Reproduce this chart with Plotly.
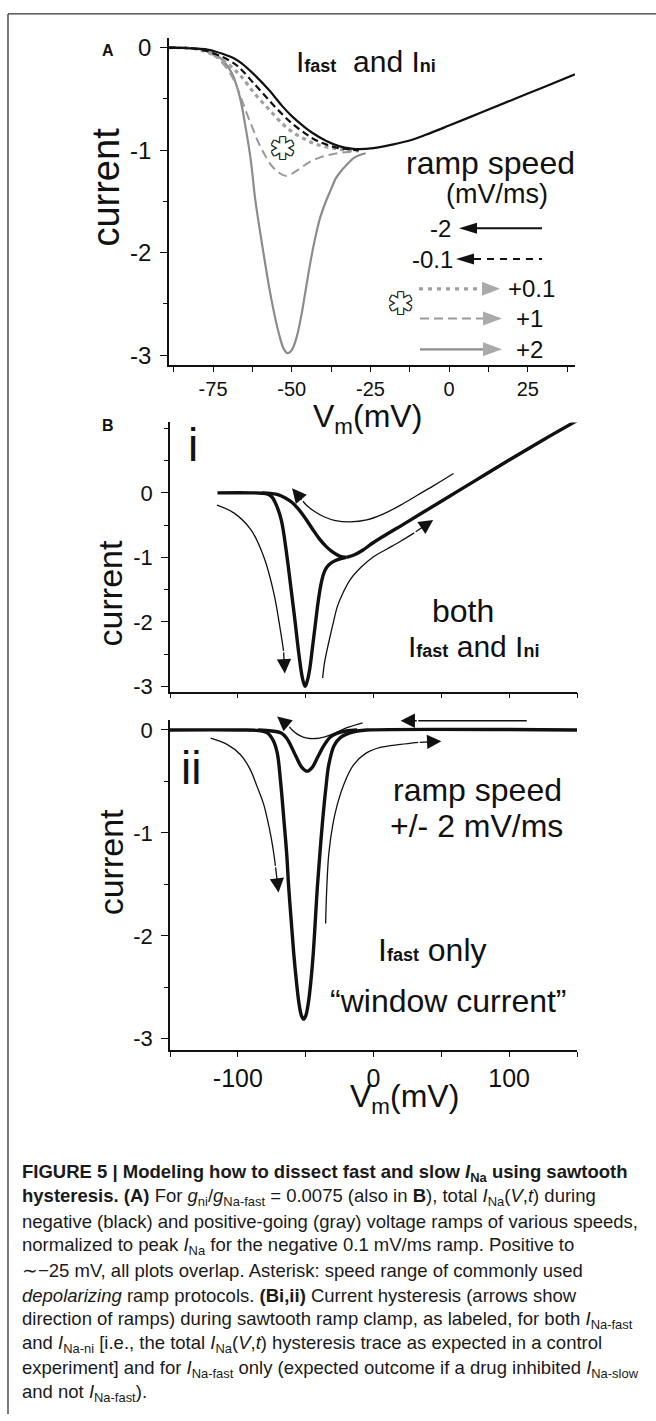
import plotly.graph_objects as go

W, H = 656, 1421
def X(px): return px / W
def Y(py): return 1 - py / H

FONT = "Liberation Sans, Arial, sans-serif"
CAPFONT = "Liberation Sans, Arial, sans-serif"

# ---------------- Panel A data (V in mV, normalized current) ----------------
vA_neg2 = [-89, -85, -80, -76.4, -72, -68, -65.8, -62, -57.3, -53, -49.9, -46.5, -43.5, -39, -35, -31, -28.7, -24, -18, -12, -7.4, 0, 10, 20, 30, 40]
iA_neg2 = [0, -0.003, -0.01, -0.02, -0.06, -0.11, -0.155, -0.26, -0.41, -0.57, -0.67, -0.76, -0.83, -0.91, -0.96, -0.985, -0.99, -0.98, -0.945, -0.9, -0.85, -0.76, -0.635, -0.51, -0.385, -0.26]
vA_neg01 = [-89, -82, -79, -76.4, -72, -68, -65.8, -62, -57.3, -53, -49.9, -46, -42.5, -38.5, -35, -31, -28.7]
iA_neg01 = [0, -0.005, -0.02, -0.04, -0.09, -0.16, -0.22, -0.35, -0.51, -0.65, -0.74, -0.83, -0.9, -0.95, -0.98, -0.995, -1.0]
vA_pos01 = [-89, -82, -79, -76.4, -72, -68, -65.8, -62, -57.3, -53, -49.9, -46, -42.5, -38.5, -35, -31, -28.7]
iA_pos01 = [0, -0.005, -0.025, -0.05, -0.12, -0.22, -0.29, -0.44, -0.6, -0.74, -0.82, -0.89, -0.94, -0.97, -0.99, -1.0, -1.0]
vA_pos1 = [-89, -82, -78, -75.4, -72, -69, -66.8, -64.7, -62.5, -60.5, -58.3, -56.3, -54, -52, -50, -47.5, -44.6, -41, -37.2, -33, -28.7]
iA_pos1 = [0, -0.005, -0.025, -0.06, -0.15, -0.28, -0.43, -0.61, -0.78, -0.93, -1.06, -1.155, -1.22, -1.25, -1.23, -1.18, -1.12, -1.07, -1.04, -1.02, -1.01]
vA_pos2 = [-89, -82, -78, -75.4, -72, -69, -66.5, -64.7, -63, -61.6, -59, -56.5, -54, -52.5, -51.3, -50, -48.5, -47, -45.5, -44, -42.5, -41, -39.3, -37.5, -36.1, -34.5, -32.9, -30, -26.5]
iA_pos2 = [0, -0.005, -0.02, -0.04, -0.12, -0.25, -0.48, -0.77, -1.1, -1.48, -2.0, -2.45, -2.8, -2.94, -2.98, -2.95, -2.83, -2.62, -2.35, -2.08, -1.85, -1.66, -1.51, -1.38, -1.28, -1.21, -1.155, -1.07, -1.03]

A_xticks = [-75, -50, -25, 0, 25]
A_xticktext = ["-75", "-50", "-25", "0", "25"]
A_xminor = [-87.5, -62.5, -37.5, -12.5, 12.5, 37.5]
A_yticks = [0, -1, -2, -3]
A_yticktext = ["0", "-1", "-2", "-3"]
A_yminor = [-0.5, -1.5, -2.5]
legend_neg = ["-2", "-0.1"]
legend_pos = ["+0.1", "+1", "+2"]

# ---------------- Panel B(i) data ----------------
vBi_dep = [-115, -90, -82, -78, -75, -72, -68, -64, -61, -58, -55, -52.5, -50.5, -49, -47, -45, -43, -41, -39, -37, -35, -32, -28, -24, -20]
iBi_dep = [0, 0, -0.005, -0.02, -0.06, -0.17, -0.42, -0.95, -1.45, -1.96, -2.5, -2.86, -3.0, -2.93, -2.73, -2.4, -2.06, -1.72, -1.45, -1.27, -1.17, -1.1, -1.05, -1.02, -1.0]
vBi_rep = [-82, -76, -70, -65, -60, -55, -50, -45, -40, -35, -30, -25, -20]
iBi_rep = [0, -0.01, -0.03, -0.08, -0.15, -0.26, -0.4, -0.56, -0.71, -0.83, -0.92, -0.98, -1.0]
vBi_lin = [-20, -14, -8, 0, 25, 50, 75, 100, 125, 150]
iBi_lin = [-1.0, -0.96, -0.89, -0.77, -0.45, -0.13, 0.19, 0.51, 0.82, 1.12]
vBi_arrL = [-115.4, -103, -90.4, -80.9, -73.5, -68.4, -66.3]
iBi_arrL = [-0.19, -0.31, -0.57, -0.99, -1.55, -2.16, -2.45]
vBi_arrR = [-37.5, -36, -33, -29.5, -26.6, -22, -17, -9, 0, 10, 20, 30]
iBi_arrR = [-2.87, -2.62, -2.32, -2.0, -1.76, -1.53, -1.34, -1.15, -0.99, -0.87, -0.75, -0.62]
vBi_arrT = [59, 45, 32, 20, 7, -5, -17, -28, -36.5, -44, -49, -52]
iBi_arrT = [0.3, 0.12, -0.04, -0.19, -0.33, -0.42, -0.45, -0.43, -0.37, -0.28, -0.2, -0.13]
Bi_tipL = (-65.4, -2.8)
Bi_tipR = (44, -0.42)
Bi_tipT = (-60, 0.07)

# ---------------- Panel B(ii) data ----------------
vBii_dep = [-150, -100, -85, -78, -74, -71, -68.5, -66, -64, -62.5, -60.5, -58.8, -57, -55, -53, -51.5, -50, -48, -46, -44.4, -43, -41.4, -39.5, -37.5, -35, -33, -29, -24, -18, -12, -5, 150]
iBii_dep = [0, 0, -0.005, -0.03, -0.1, -0.22, -0.5, -0.88, -1.2, -1.53, -1.88, -2.17, -2.42, -2.65, -2.78, -2.81, -2.78, -2.65, -2.42, -2.17, -1.88, -1.53, -1.2, -0.88, -0.55, -0.34, -0.15, -0.07, -0.03, -0.01, 0, 0]
vBii_rep = [-85, -75, -68, -64, -61, -57, -53, -48.8, -45, -41, -36.5, -32, -26.6, -20, -12]
iBii_rep = [0, -0.01, -0.03, -0.08, -0.15, -0.26, -0.36, -0.4, -0.36, -0.26, -0.15, -0.07, -0.03, -0.01, 0]
vBii_arrT = [-8, -20, -30, -40, -49, -55, -60, -62]
iBii_arrT = [0.07, 0.02, -0.04, -0.08, -0.08, -0.05, 0.0, 0.03]
vBii_arrL = [-120, -108, -98, -91, -85.5, -81, -78, -75.5, -73.5, -72.3]
iBii_arrL = [-0.08, -0.14, -0.24, -0.38, -0.56, -0.72, -0.88, -1.04, -1.2, -1.32]
vBii_arrR = [-35.3, -34.5, -33, -30, -26.6, -21, -14.7, -6, 5, 20, 33]
iBii_arrR = [-1.88, -1.55, -1.21, -0.92, -0.72, -0.5, -0.34, -0.23, -0.17, -0.14, -0.12]
vBii_arrH = [113, 33]
iBii_arrH = [0.09, 0.09]
Bii_tipT = (-71, 0.13)
Bii_tipL = (-70, -1.58)
Bii_tipR = (50, -0.11)
Bii_tipH = (20, 0.09)

B_xticks_all = [-150, -100, -50, 0, 50, 100, 150]
B_xlabels = [-100, 0, 100]
B_xlabeltext = ["-100", "0", "100"]
B_xminor = [-150, -50, 50, 150]
B_yticks = [0, -1, -2, -3]
B_yticktext = ["0", "-1", "-2", "-3"]
Bi_yminor = [1, 0.5, -0.5, -1.5, -2.5]
Bii_yminor = [-0.5, -1.5, -2.5]

BLACK = "#111111"
G_SOLID = "#8c8c8c"
G_DASH = "#9a9a9a"
G_DOT = "#a0a0a0"

fig = go.Figure()

def add(xs, ys, ax, color, width, dash="solid", smooth=1.0):
    fig.add_trace(go.Scatter(
        x=xs, y=ys, xaxis="x" + ax, yaxis="y" + ax, mode="lines",
        line=dict(color=color, width=width, dash=dash, shape="spline", smoothing=smooth),
        hoverinfo="skip", showlegend=False))

# Panel A
add(vA_pos2, iA_pos2, "", G_SOLID, 2.2)
add(vA_pos1, iA_pos1, "", G_DASH, 2.0, "9px,5px")
add(vA_pos01, iA_pos01, "", G_DOT, 3.2, "4px,4px")
add(vA_neg01, iA_neg01, "", BLACK, 2.2, "7px,4px")
add(vA_neg2, iA_neg2, "", BLACK, 2.2)

# Panel B(i)
add(vBi_dep, iBi_dep, "2", BLACK, 3.4)
add(vBi_rep, iBi_rep, "2", BLACK, 3.4)
add(vBi_lin, iBi_lin, "2", BLACK, 3.4)
add(vBi_arrL, iBi_arrL, "2", BLACK, 1.3)
add(vBi_arrR, iBi_arrR, "2", BLACK, 1.3)
add(vBi_arrT, iBi_arrT, "2", BLACK, 1.3)

# Panel B(ii)
add(vBii_dep, iBii_dep, "3", BLACK, 3.4)
add(vBii_rep, iBii_rep, "3", BLACK, 3.4)
add(vBii_arrT, iBii_arrT, "3", BLACK, 1.3)
add(vBii_arrL, iBii_arrL, "3", BLACK, 1.3)
add(vBii_arrR, iBii_arrR, "3", BLACK, 1.3)
add(vBii_arrH, iBii_arrH, "3", BLACK, 1.3, smooth=0)

annotations = []

def arrowhead(tip, xs, ys, ax):
    annotations.append(dict(
        x=tip[0], y=tip[1], ax=xs[-1], ay=ys[-1],
        xref="x" + ax, yref="y" + ax, axref="x" + ax, ayref="y" + ax,
        text="", showarrow=True, arrowhead=2, arrowsize=2.2, arrowwidth=1.3,
        arrowcolor=BLACK, standoff=0))

arrowhead(Bi_tipL, vBi_arrL, iBi_arrL, "2")
arrowhead(Bi_tipR, vBi_arrR, iBi_arrR, "2")
arrowhead(Bi_tipT, vBi_arrT, iBi_arrT, "2")
arrowhead(Bii_tipT, vBii_arrT, iBii_arrT, "3")
arrowhead(Bii_tipL, vBii_arrL, iBii_arrL, "3")
arrowhead(Bii_tipR, vBii_arrR, iBii_arrR, "3")
arrowhead(Bii_tipH, vBii_arrH, iBii_arrH, "3")

def txt(text, px, py, size, xanchor="center", yanchor="middle", angle=0, family=FONT, color=BLACK, shadow=None):
    f = dict(family=family, size=size, color=color)
    if shadow:
        f["shadow"] = shadow
    annotations.append(dict(
        text=text, x=X(px), y=Y(py), xref="paper", yref="paper",
        xanchor=xanchor, yanchor=yanchor, showarrow=False, textangle=angle, font=f))

SMALL = "<b><span style='font-size:18px'>%s</span></b>"
OUTLINE = "1px 0 0 #222, -1px 0 0 #222, 0 1px 0 #222, 0 -1px 0 #222, 1px 1px 0 #222, -1px -1px 0 #222, 1px -1px 0 #222, -1px 1px 0 #222"
# Panel A texts
txt("<b>A</b>", 108, 47, 16)
txt("I" + SMALL % "fast" + "  and I" + SMALL % "ni", 294, 58, 30, xanchor="left")
txt("ramp speed", 490, 160, 32)
txt("(mV/ms)", 497, 191, 27)
txt(legend_neg[0], 453, 226, 24, xanchor="right")
txt(legend_neg[1], 455, 257, 24, xanchor="right")
txt(legend_pos[0], 506, 287, 24, xanchor="left")
txt(legend_pos[1], 514, 317, 24, xanchor="left")
txt(legend_pos[2], 514, 348, 24, xanchor="left")
txt("✱", 282, 146, 30, family="DejaVu Sans", color="white", shadow=OUTLINE)
txt("✱", 400, 302, 30, family="DejaVu Sans", color="white", shadow=OUTLINE)
txt("current", 106, 185, 38, angle=-90)
txt("V<sub>m</sub>(mV)", 367, 418, 32)

# Panel B texts
txt("<b>B</b>", 108, 425, 16)
txt("i", 193, 444, 46)
txt("current", 110, 594, 34, angle=-90)
txt("both", 463, 612, 32)
txt("I" + SMALL % "fast" + " and I" + SMALL % "ni", 473, 648, 30)
txt("ii", 191, 770, 46)
txt("current", 111, 865, 34, angle=-90)
txt("ramp speed", 477, 792, 32)
txt("+/- 2 mV/ms", 476, 828, 32)
txt("I" + SMALL % "fast" + " only", 432, 953, 32)
txt("\u201cwindow current\u201d", 448, 1005, 32)
txt("V<sub>m</sub>(mV)", 404, 1103, 32)

# Caption
caption = [
    "<b>FIGURE 5 | Modeling how to dissect fast and slow <i>I</i><sub>Na</sub> using sawtooth</b>",
    "<b>hysteresis. (A)</b> For <i>g</i><sub>ni</sub>/<i>g</i><sub>Na-fast</sub> = 0.0075 (also in <b>B</b>), total <i>I</i><sub>Na</sub>(<i>V</i>,<i>t</i>) during",
    "negative (black) and positive-going (gray) voltage ramps of various speeds,",
    "normalized to peak <i>I</i><sub>Na</sub> for the negative 0.1 mV/ms ramp. Positive to",
    "\u223c\u221225 mV, all plots overlap. Asterisk: speed range of commonly used",
    "<i>depolarizing</i> ramp protocols. <b>(Bi,ii)</b> Current hysteresis (arrows show",
    "direction of ramps) during sawtooth ramp clamp, as labeled, for both <i>I</i><sub>Na-fast</sub>",
    "and <i>I</i><sub>Na-ni</sub> [i.e., the total <i>I</i><sub>Na</sub>(<i>V</i>,<i>t</i>) hysteresis trace as expected in a control",
    "experiment] and for <i>I</i><sub>Na-fast</sub> only (expected outcome if a drug inhibited <i>I</i><sub>Na-slow</sub>",
    "and not <i>I</i><sub>Na-fast</sub>).",
]
for k, line in enumerate(caption):
    txt(line, 20, 1178 + 24.7 * k, 18.5, xanchor="left", family=CAPFONT, color="#1a1a1a")

shapes = []
# Frame (left and top lines)
shapes.append(dict(type="line", xref="paper", yref="paper", x0=X(8), y0=Y(10), x1=X(8), y1=0, line=dict(color="#333", width=1.3)))
shapes.append(dict(type="line", xref="paper", yref="paper", x0=X(8), y0=Y(10), x1=1, y1=Y(10), line=dict(color="#333", width=1.3)))

def seg(x0, x1, py, color, width, dash="solid"):
    shapes.append(dict(type="line", xref="paper", yref="paper", x0=X(x0), y0=Y(py), x1=X(x1), y1=Y(py),
                       line=dict(color=color, width=width, dash=dash)))

def tri(tipx, basex, py, half, color):
    p = "M %f,%f L %f,%f L %f,%f Z" % (X(tipx), Y(py), X(basex), Y(py - half), X(basex), Y(py + half))
    shapes.append(dict(type="path", xref="paper", yref="paper", path=p, fillcolor=color, line=dict(width=0)))

# legend glyphs
seg(476, 542, 226, BLACK, 2.2)
tri(459, 477, 226, 5.5, BLACK)
seg(474, 542, 257, BLACK, 2.2, "7px,6px")
tri(456, 474, 257, 5.5, BLACK)
seg(419, 482, 287, G_DOT, 3.2, "4px,5px")
tri(500, 482, 287, 7, "#aaaaaa")
seg(420, 483, 317, G_DASH, 2.0, "9px,5px")
tri(502, 483, 317, 7, "#aaaaaa")
seg(420, 483, 348, G_SOLID, 2.2)
tri(502, 483, 348, 7, "#aaaaaa")

axis_common = dict(showline=True, linecolor=BLACK, linewidth=1.5, showgrid=False, zeroline=False,
                   ticks="outside", tickcolor=BLACK, tickwidth=1.3)

fig.update_layout(
    width=W, height=H, margin=dict(l=0, r=0, t=0, b=0),
    paper_bgcolor="white", plot_bgcolor="white", showlegend=False,
    xaxis=dict(domain=[X(169), X(575)], range=[-89, 40], anchor="y", tickvals=A_xticks, ticktext=A_xticktext,
               ticklen=5, tickfont=dict(family=FONT, size=20, color=BLACK), ticklabelstandoff=0,
               minor=dict(tickvals=A_xminor, ticks="outside", ticklen=5, tickcolor=BLACK, tickwidth=1.3), **axis_common),
    yaxis=dict(domain=[Y(364), Y(34)], range=[-3.097, 0.097], anchor="x", tickvals=A_yticks, ticktext=A_yticktext,
               ticklen=7, tickfont=dict(family=FONT, size=24, color=BLACK), ticklabelstandoff=4,
               minor=dict(tickvals=A_yminor, ticks="outside", ticklen=4, tickcolor=BLACK, tickwidth=1.3), **axis_common),
    xaxis2=dict(domain=[X(170), X(577)], range=[-150, 150], anchor="y2", tickvals=B_xticks_all, ticklen=5,
                showticklabels=False, **axis_common),
    yaxis2=dict(domain=[Y(693), Y(421.7)], range=[-3.082, 1.092], anchor="x2", tickvals=B_yticks, ticktext=B_yticktext,
                ticklen=7, tickfont=dict(family=FONT, size=22, color=BLACK), ticklabelstandoff=4,
                minor=dict(tickvals=Bi_yminor, ticks="outside", ticklen=4, tickcolor=BLACK, tickwidth=1.3), **axis_common),
    xaxis3=dict(domain=[X(170), X(577)], range=[-150, 150], anchor="y3", tickvals=B_xlabels, ticktext=B_xlabeltext,
                ticklen=5, tickfont=dict(family=FONT, size=25, color=BLACK), ticklabelstandoff=0,
                minor=dict(tickvals=B_xminor, ticks="outside", ticklen=5, tickcolor=BLACK, tickwidth=1.3), **axis_common),
    yaxis3=dict(domain=[Y(1054), Y(721.7)], range=[-3.108, 0.096], anchor="x3", tickvals=B_yticks, ticktext=B_yticktext,
                ticklen=7, tickfont=dict(family=FONT, size=22, color=BLACK), ticklabelstandoff=4,
                minor=dict(tickvals=Bii_yminor, ticks="outside", ticklen=4, tickcolor=BLACK, tickwidth=1.3), **axis_common),
    annotations=annotations, shapes=shapes,
)

fig.write_html("out.html", config={"displayModeBar": False},
               post_script="document.body.style.margin='0px';document.body.style.padding='0px';document.body.style.overflow='hidden';")
